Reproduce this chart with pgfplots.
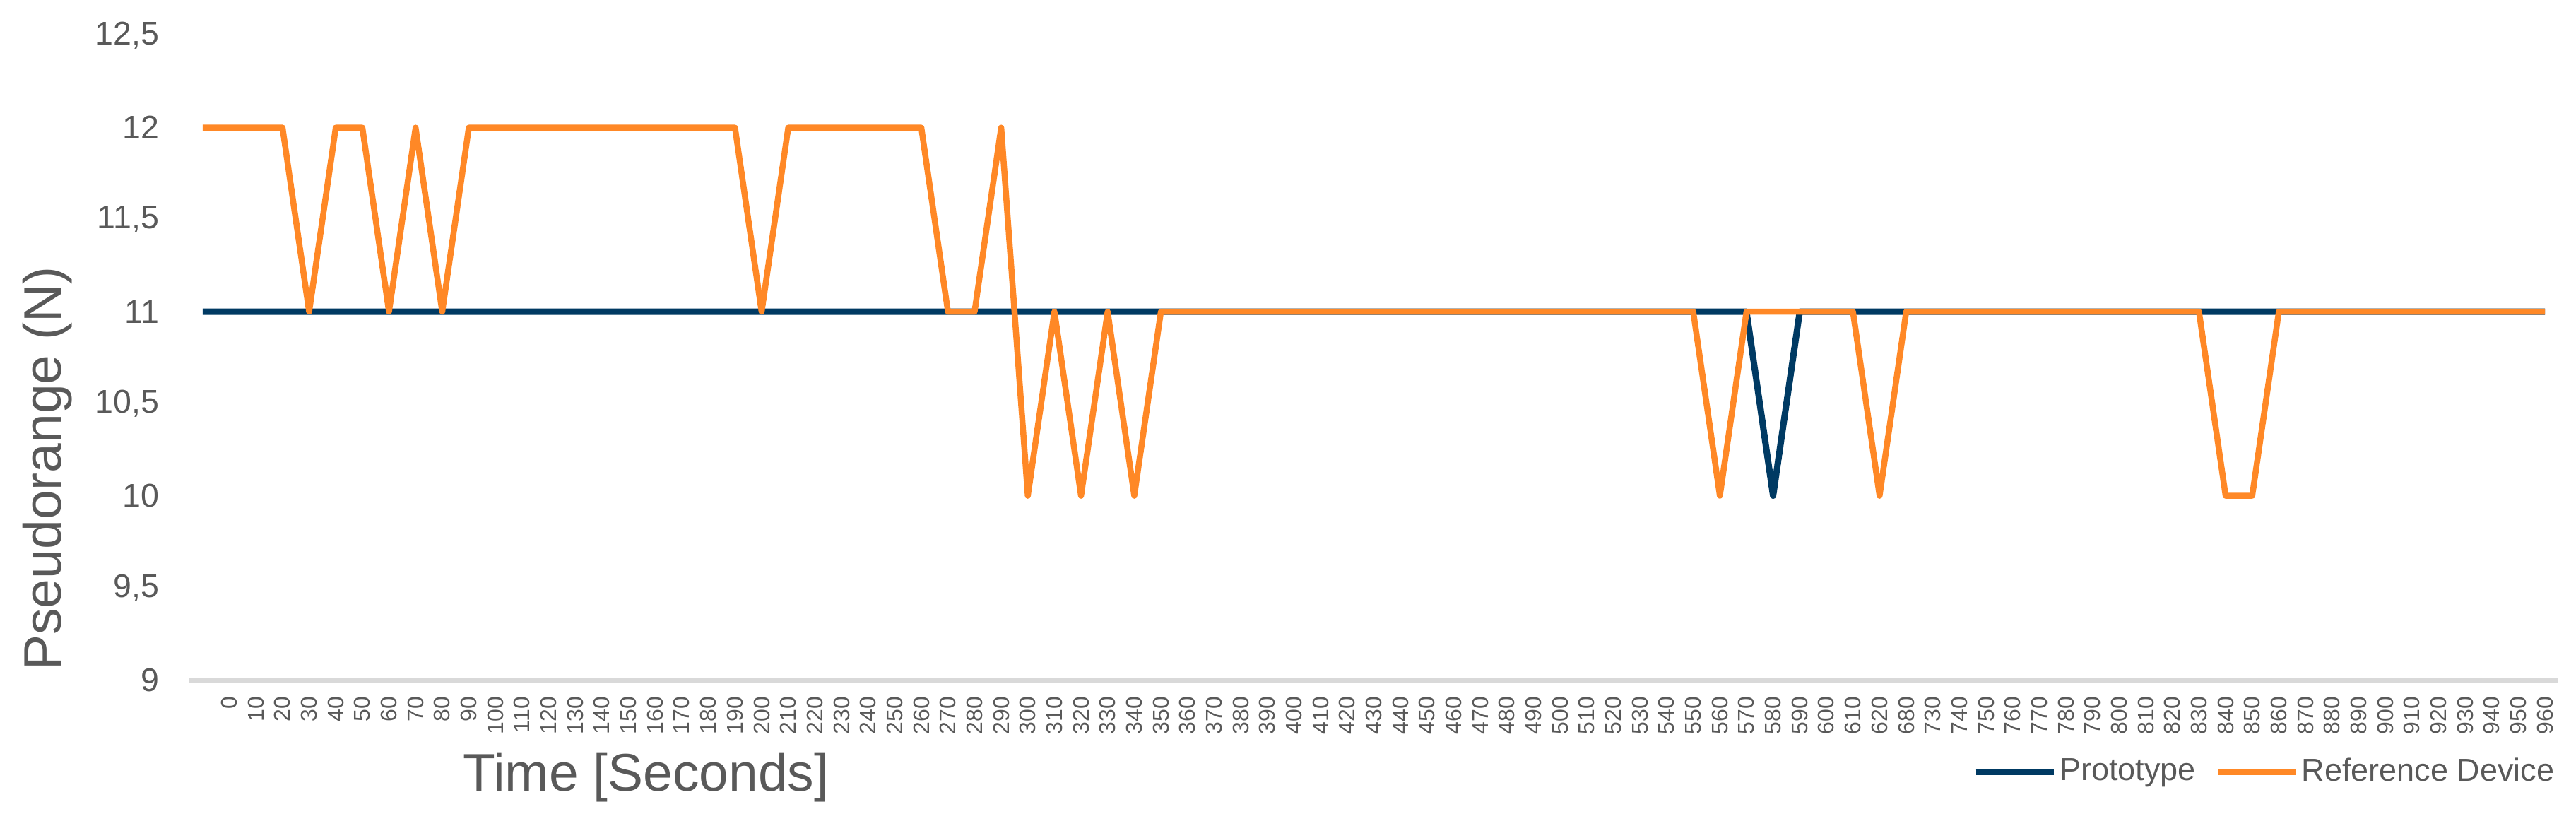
\documentclass[border=0pt]{standalone}
\usepackage{fontspec}
\setmainfont{Liberation Sans}
\usepackage{pgfplots}
\usepackage{pgfplotstable}
\pgfplotsset{compat=1.18}
\definecolor{protoblue}{RGB}{0,58,99}
\definecolor{reforange}{RGB}{255,136,38}
\definecolor{txtgray}{RGB}{89,89,89}
\definecolor{axgray}{RGB}{217,217,217}

% j = category index (0 = unlabeled first category)
\pgfplotstableread{
j proto ref
0 11 12
1 11 12
2 11 12
3 11 12
4 11 11
5 11 12
6 11 12
7 11 11
8 11 12
9 11 11
10 11 12
11 11 12
12 11 12
13 11 12
14 11 12
15 11 12
16 11 12
17 11 12
18 11 12
19 11 12
20 11 12
21 11 11
22 11 12
23 11 12
24 11 12
25 11 12
26 11 12
27 11 12
28 11 11
29 11 11
30 11 12
31 11 10
32 11 11
33 11 10
34 11 11
35 11 10
36 11 11
37 11 11
38 11 11
39 11 11
40 11 11
41 11 11
42 11 11
43 11 11
44 11 11
45 11 11
46 11 11
47 11 11
48 11 11
49 11 11
50 11 11
51 11 11
52 11 11
53 11 11
54 11 11
55 11 11
56 11 11
57 11 10
58 11 11
59 10 11
60 11 11
61 11 11
62 11 11
63 11 10
64 11 11
65 11 11
66 11 11
67 11 11
68 11 11
69 11 11
70 11 11
71 11 11
72 11 11
73 11 11
74 11 11
75 11 11
76 11 10
77 11 10
78 11 11
79 11 11
80 11 11
81 11 11
82 11 11
83 11 11
84 11 11
85 11 11
86 11 11
87 11 11
88 11 11
}\datatable

\begin{document}
\begin{tikzpicture}
\useasboundingbox (0,0) rectangle (729.2pt,233.6pt);
\begin{axis}[
  at={(53.6pt,41.2pt)}, anchor=south west,
  scale only axis, width=670.6pt, height=182.3pt,
  xmin=-0.5, xmax=88.5, ymin=9, ymax=12.5,
  clip=false,
  axis x line*=bottom, axis y line*=left,
  x axis line style={axgray, line width=1.4pt, -},
  y axis line style={draw=none},
  major tick length=0pt,
  tick style={draw=none},
  xtick={0,...,88},
  xticklabels={{},0,10,20,30,40,50,60,70,80,90,100,110,120,130,140,150,160,170,180,190,200,210,220,230,240,250,260,270,280,290,300,310,320,330,340,350,360,370,380,390,400,410,420,430,440,450,460,470,480,490,500,510,520,530,540,550,560,570,580,590,600,610,620,680,730,740,750,760,770,780,790,800,810,820,830,840,850,860,870,880,890,900,910,920,930,940,950,960},
  xticklabel style={rotate=90, anchor=east, inner sep=0pt, xshift=-4.6pt, font=\fontsize{6.4}{7}\selectfont, text=txtgray},
  ytick={9,9.5,10,10.5,11,11.5,12,12.5},
  yticklabel style={anchor=east, inner sep=0pt, xshift=-8.4pt, font=\fontsize{9.3}{11}\selectfont, text=txtgray},
  /pgf/number format/assume math mode=true,
  /pgf/number format/use comma,
  xlabel={Time [Seconds]},
  xlabel style={at={(axis description cs:0.1927,0)}, anchor=center, yshift=-27.6pt, font=\fontsize{15}{18}\selectfont, text=txtgray},
  ylabel={Pseudorange (N)},
  ylabel style={at={(axis description cs:0,0.328)}, anchor=center, yshift=40.2pt, font=\fontsize{15}{18}\selectfont, text=txtgray},
  legend columns=2,
  legend style={at={(axis description cs:1,0)}, anchor=east, yshift=-26.2pt,
    draw=none, fill=none, inner sep=0pt,
    font=\fontsize{9}{11}\selectfont, text=txtgray,
    /tikz/every even column/.append style={column sep=4.6pt},
    nodes={inner sep=0.9pt}},
  legend image code/.code={\draw[#1, line width=1.6pt] (0pt,0pt) -- (22pt,0pt);},
]
\addplot[protoblue, line width=1.8pt, line join=round, mark=none] table[x=j, y=proto] {\datatable};
\addlegendentry{Prototype}
\addplot[reforange, line width=1.7pt, line join=round, mark=none] table[x=j, y=ref] {\datatable};
\addlegendentry{Reference Device}
\end{axis}
\end{tikzpicture}
\end{document}
